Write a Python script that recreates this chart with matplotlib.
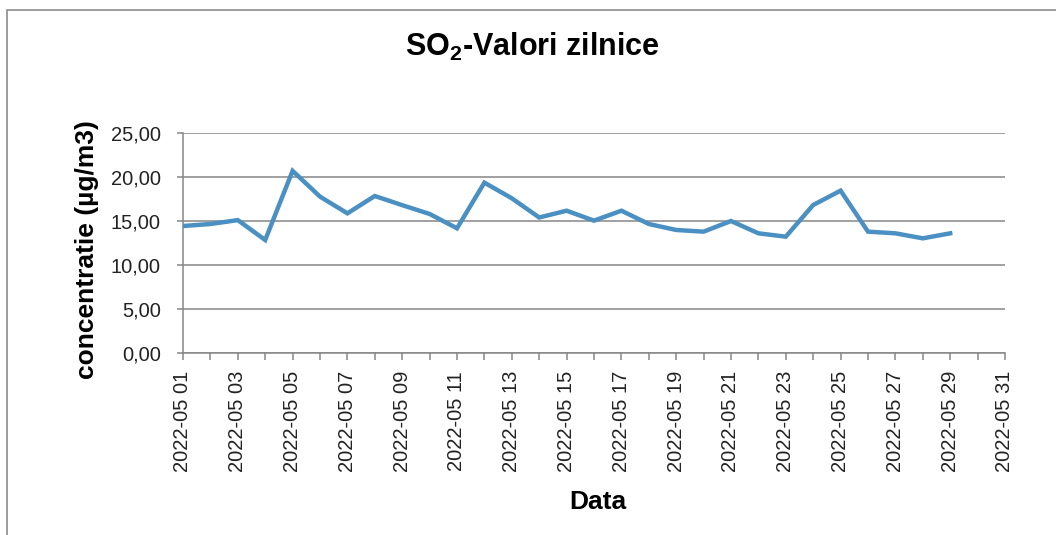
import matplotlib
matplotlib.use("Agg")
import matplotlib.pyplot as plt
import matplotlib.dates as mdates
import matplotlib.ticker as mticker
from matplotlib.patches import Rectangle
import datetime as dt

plt.rcParams['font.family'] = ['Liberation Sans', 'DejaVu Sans']
plt.rcParams['mathtext.fontset'] = 'custom'
plt.rcParams['mathtext.rm'] = 'Liberation Sans:bold'
plt.rcParams['mathtext.bf'] = 'Liberation Sans:bold'

# Data
days = list(range(1, 30))
values = [14.43, 14.66, 15.10, 12.84, 20.70, 17.77, 15.87, 17.84, 16.80, 15.80,
          14.17, 19.36, 17.58, 15.40, 16.17, 15.04, 16.17, 14.66, 13.98, 13.79,
          15.00, 13.60, 13.22, 16.82, 18.45, 13.79, 13.60, 13.03, 13.60]
dates = [dt.datetime(2022, 5, d) for d in days]
y_ticks = [0, 5, 10, 15, 20, 25]
title = r"SO$_\mathrm{2}$-Valori zilnice"
ylabel = "concentratie (µg/m3)"
xlabel = "Data"

W, H = 1056, 535
fig = plt.figure(figsize=(W / 100, H / 100), dpi=100)
ax = fig.add_axes([183 / W, 1 - 353 / H, (1005 - 183) / W, (353 - 133) / H])

# chart border (left and top visible)
fig.add_artist(Rectangle((7 / W, -0.1), 1.2, 1 - 10 / H + 0.1, transform=fig.transFigure,
                         fill=False, edgecolor='#8c8c8c', linewidth=1.2))

ax.plot(dates, values, color='#4a90c2', linewidth=3.2, solid_joinstyle='miter', zorder=3)

ax.set_xlim(dt.datetime(2022, 5, 1), dt.datetime(2022, 5, 31))
ax.set_ylim(0, 25)
ax.set_yticks(y_ticks)
ax.yaxis.set_major_formatter(mticker.FuncFormatter(lambda v, p: f"{v:.2f}".replace('.', ',')))
ax.xaxis.set_major_locator(mdates.DayLocator(bymonthday=list(range(1, 32, 2))))
ax.xaxis.set_minor_locator(mdates.DayLocator())
ax.xaxis.set_major_formatter(mdates.DateFormatter('%Y-%m %d'))
for lab in ax.get_xticklabels():
    lab.set_rotation(90)

ax.grid(axis='y', color='#868686', linewidth=1.1, zorder=1)
for s in ['top', 'right']:
    ax.spines[s].set_visible(False)
for s in ['left', 'bottom']:
    ax.spines[s].set_color('#868686')
    ax.spines[s].set_linewidth(1.1)

ax.tick_params(axis='y', which='major', length=4, width=1.1, color='#868686', pad=12,
               labelsize=14.5, labelcolor='#222222')
ax.tick_params(axis='x', which='both', length=5, width=1.1, color='#868686', direction='out')
ax.tick_params(axis='x', which='major', pad=8, labelsize=14.5, labelcolor='#222222')

fig.text(532 / W, 1 - 47 / H, title, ha='center', va='center', fontsize=22, fontweight='bold')
fig.text(87 / W, 1 - 250 / H, ylabel, ha='center', va='center', rotation=90,
         fontsize=19, fontweight='bold')
fig.text(598 / W, 1 - 502 / H, xlabel, ha='center', va='center', fontsize=19, fontweight='bold')

fig.savefig('out.png', dpi=100)
